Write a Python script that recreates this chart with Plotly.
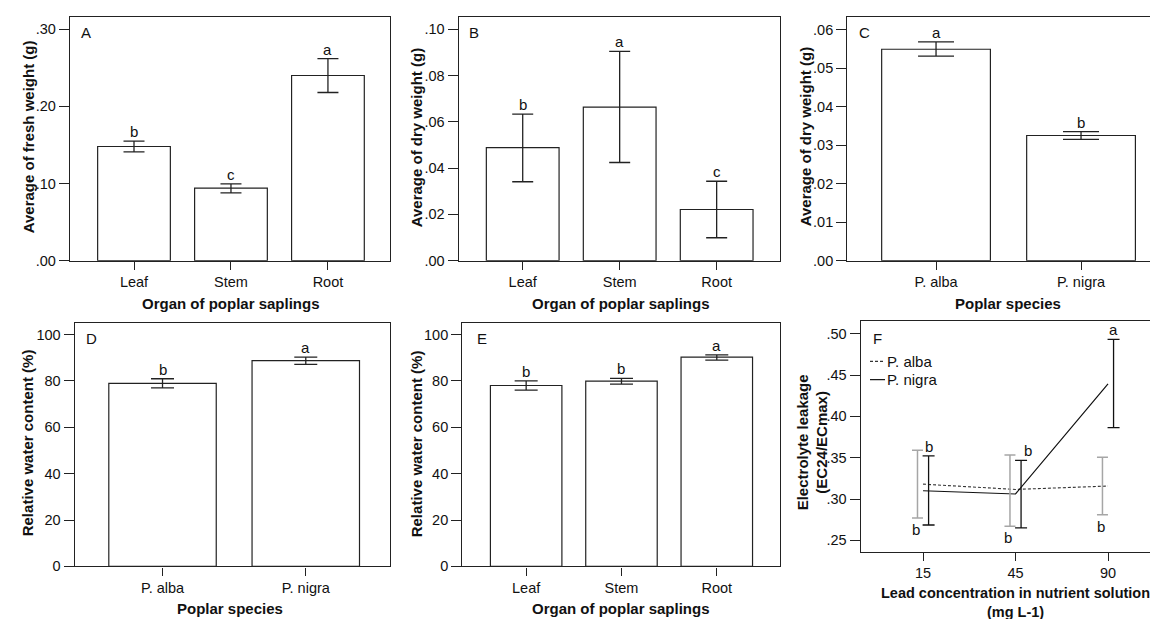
import plotly.graph_objects as go

W, H = 1158, 619

# ---------------- data ----------------
organs = ["Leaf", "Stem", "Root"]
species = ["P. alba", "P. nigra"]
lead_levels = ["15", "45", "90"]

# A: fresh weight by organ
fw_mean = [0.148, 0.094, 0.240]
fw_hi = [0.155, 0.0995, 0.262]
fw_lo = [0.141, 0.088, 0.218]
fw_letters = ["b", "c", "a"]

# B: dry weight by organ
dw_mean = [0.0488, 0.0663, 0.0221]
dw_hi = [0.0633, 0.0904, 0.0343]
dw_lo = [0.0341, 0.0424, 0.0099]
dw_letters = ["b", "a", "c"]

# C: dry weight by species
dws_mean = [0.0549, 0.0325]
dws_hi = [0.0568, 0.0335]
dws_lo = [0.0531, 0.0315]
dws_letters = ["a", "b"]

# D: RWC by species
rwcs_mean = [78.9, 88.7]
rwcs_hi = [80.9, 90.2]
rwcs_lo = [77.0, 87.1]
rwcs_letters = ["b", "a"]

# E: RWC by organ
rwco_mean = [78.0, 79.9, 90.2]
rwco_hi = [80.0, 81.1, 91.2]
rwco_lo = [76.0, 78.6, 88.9]
rwco_letters = ["b", "b", "a"]

# F: electrolyte leakage
alba_mean = [0.318, 0.3116, 0.3157]
alba_hi = [0.359, 0.3534, 0.3507]
alba_lo = [0.277, 0.267, 0.281]
alba_letters = ["b", "b", "b"]
nigra_mean = [0.310, 0.3061, 0.4394]
nigra_hi = [0.3522, 0.3467, 0.4932]
nigra_lo = [0.2686, 0.265, 0.3865]
nigra_letters = ["b", "b", "a"]

tick_A = [0, 0.10, 0.20, 0.30]
tick_A_txt = [".00", ".10", ".20", ".30"]
tick_B = [0, 0.02, 0.04, 0.06, 0.08, 0.10]
tick_B_txt = [".00", ".02", ".04", ".06", ".08", ".10"]
tick_C = [0, 0.01, 0.02, 0.03, 0.04, 0.05, 0.06]
tick_C_txt = [".00", ".01", ".02", ".03", ".04", ".05", ".06"]
tick_DE = [0, 20, 40, 60, 80, 100]
tick_DE_txt = ["0", "20", "40", "60", "80", "100"]
tick_F = [0.25, 0.30, 0.35, 0.40, 0.45, 0.50]
tick_F_txt = [".25", ".30", ".35", ".40", ".45", ".50"]

# ---------------- style ----------------
FONT = "Liberation Sans, Arial, sans-serif"
LC = "#222222"
GRAY = "#a6a6a6"

def px_x(p):
    return p / W

def px_y(p):
    return 1 - p / H

fig = go.Figure()

panels = [
    ("", 62, 382, 9, 256, [-0.66, 2.64], [0, 0.316], tick_A, tick_A_txt, True),
    ("2", 450.7, 771.7, 9, 256, [-0.66, 2.65], [0, 0.1053], tick_B, tick_B_txt, True),
    ("3", 839.3, 1158, 9, 256, [-0.612, 1.586], [0, 0.0633], tick_C, tick_C_txt, False),
    ("4", 66.7, 382.3, 319, 565.7, [-0.613, 1.59], [0, 105], tick_DE, tick_DE_txt, True),
    ("5", 454.3, 771.7, 319, 565.7, [-0.67, 2.66], [0, 105], tick_DE, tick_DE_txt, True),
    ("6", 852.7, 1158, 317.3, 550.7, [-0.674, 2.627], [0.2364, 0.5152], tick_F, tick_F_txt, False),
]

layout_axes = {}
for name, x0, x1, yt, yb, xr, yr, tv, tt, rline in panels:
    layout_axes["xaxis" + name] = dict(
        domain=[px_x(x0), min(1.0, px_x(x1))], anchor="y" + name, range=xr,
        showline=True, linecolor=LC, linewidth=1.3, mirror=True,
        ticks="outside", ticklen=8, tickcolor=LC, tickwidth=1.3,
        showgrid=False, zeroline=False, tickfont=dict(family=FONT, size=14.5, color="#111"),
    )
    layout_axes["yaxis" + name] = dict(
        domain=[px_y(yb), px_y(yt)], anchor="x" + name, range=yr,
        showline=True, linecolor=LC, linewidth=1.3, mirror=rline,
        ticks="outside", ticklen=10, tickcolor=LC, tickwidth=1.3,
        tickvals=tv, ticktext=tt,
        showgrid=False, zeroline=False, tickfont=dict(family=FONT, size=14.5, color="#111"),
    )

layout_axes["xaxis"].update(tickvals=[0, 1, 2], ticktext=organs)
layout_axes["xaxis2"].update(tickvals=[0, 1, 2], ticktext=organs)
layout_axes["xaxis3"].update(tickvals=[0, 1], ticktext=species)
layout_axes["xaxis4"].update(tickvals=[0, 1], ticktext=species)
layout_axes["xaxis5"].update(tickvals=[0, 1, 2], ticktext=organs)
layout_axes["xaxis6"].update(tickvals=[0, 1, 2], ticktext=lead_levels)

annotations = []

def bar_panel(suffix, cats, mean, hi, lo, letters, capw):
    xs = list(range(len(cats)))
    fig.add_trace(go.Bar(
        x=xs, y=mean, width=0.75,
        marker=dict(color="white", line=dict(color=LC, width=1.2)),
        error_y=dict(type="data", symmetric=False,
                     array=[h - m for h, m in zip(hi, mean)],
                     arrayminus=[m - l for m, l in zip(mean, lo)],
                     color=LC, thickness=1.3, width=capw),
        xaxis="x" + suffix, yaxis="y" + suffix, showlegend=False,
    ))
    for x, h, t in zip(xs, hi, letters):
        annotations.append(dict(
            x=x, y=h, xref="x" + suffix, yref="y" + suffix, text=t,
            showarrow=False, yanchor="bottom", yshift=-1,
            font=dict(family=FONT, size=15, color="#111")))

bar_panel("", organs, fw_mean, fw_hi, fw_lo, fw_letters, 10.5)
bar_panel("2", organs, dw_mean, dw_hi, dw_lo, dw_letters, 10.5)
bar_panel("3", species, dws_mean, dws_hi, dws_lo, dws_letters, 18)
bar_panel("4", species, rwcs_mean, rwcs_hi, rwcs_lo, rwcs_letters, 11.5)
bar_panel("5", organs, rwco_mean, rwco_hi, rwco_lo, rwco_letters, 11.5)

# ---------------- panel F ----------------
idx = list(range(len(lead_levels)))
dodge = 0.06
fig.add_trace(go.Scatter(
    x=idx, y=alba_mean, mode="lines",
    line=dict(color="#333", width=1.1, dash="3px,2px"),
    xaxis="x6", yaxis="y6", showlegend=False))
fig.add_trace(go.Scatter(
    x=idx, y=nigra_mean, mode="lines",
    line=dict(color="#111", width=1.2),
    xaxis="x6", yaxis="y6", showlegend=False))
fig.add_trace(go.Scatter(
    x=[i - dodge for i in idx], y=alba_mean, mode="markers",
    marker=dict(size=1, opacity=0),
    error_y=dict(type="data", symmetric=False,
                 array=[h - m for h, m in zip(alba_hi, alba_mean)],
                 arrayminus=[m - l for m, l in zip(alba_mean, alba_lo)],
                 color=GRAY, thickness=1.5, width=5.5),
    xaxis="x6", yaxis="y6", showlegend=False))
fig.add_trace(go.Scatter(
    x=[i + dodge for i in idx], y=nigra_mean, mode="markers",
    marker=dict(size=1, opacity=0),
    error_y=dict(type="data", symmetric=False,
                 array=[h - m for h, m in zip(nigra_hi, nigra_mean)],
                 arrayminus=[m - l for m, l in zip(nigra_mean, nigra_lo)],
                 color="#111", thickness=1.3, width=6),
    xaxis="x6", yaxis="y6", showlegend=False))
for i, h, t in zip(idx, nigra_hi, nigra_letters):
    annotations.append(dict(
        x=i + dodge + (0.08 if i == 1 else 0), y=h, xref="x6", yref="y6", text=t,
        showarrow=False, yanchor="bottom", yshift=-1,
        font=dict(family=FONT, size=15, color="#111")))
for i, l, t in zip(idx, alba_lo, alba_letters):
    annotations.append(dict(
        x=i - dodge - 0.02, y=l, xref="x6", yref="y6", text=t,
        showarrow=False, yanchor="top", yshift=-1,
        font=dict(family=FONT, size=15, color="#111")))

# legend for F (drawn manually)
shapes = [
    dict(type="line", xref="paper", yref="paper",
         x0=px_x(862), x1=px_x(877), y0=px_y(358), y1=px_y(358),
         line=dict(color="#333", width=1.1, dash="3px,2px")),
    dict(type="line", xref="paper", yref="paper",
         x0=px_x(862), x1=px_x(877), y0=px_y(376.5), y1=px_y(376.5),
         line=dict(color="#111", width=1.2)),
]
for txt, yy in [(species[0], 358), (species[1], 376.5)]:
    annotations.append(dict(
        x=px_x(877), y=px_y(yy), xref="paper", yref="paper", text=txt,
        showarrow=False, xanchor="left", yanchor="middle",
        font=dict(family=FONT, size=15, color="#111")))

# panel letters
for lab, xx, yy in [("A", 71, 25), ("B", 459, 25), ("C", 849, 25),
                    ("D", 76, 335), ("E", 467, 335), ("F", 863, 335)]:
    annotations.append(dict(
        x=px_x(xx), y=px_y(yy), xref="paper", yref="paper", text=lab,
        showarrow=False, xanchor="left", yanchor="middle",
        font=dict(family=FONT, size=15, color="#111")))

# axis titles
TF = dict(family=FONT, size=15, color="#111")
def title(text, xx, yy, angle=0, size=15):
    annotations.append(dict(
        x=px_x(xx), y=px_y(yy), xref="paper", yref="paper", text=text,
        showarrow=False, xanchor="center", yanchor="middle", textangle=angle,
        font=dict(family=FONT, size=size, color="#111")))

title("<b>Organ of poplar saplings</b>", 223, 299)
title("<b>Organ of poplar saplings</b>", 613, 299)
title("<b>Poplar species</b>", 1000, 299)
title("<b>Poplar species</b>", 222, 608)
title("<b>Organ of poplar saplings</b>", 613, 608)
title("<b>Lead concentration in nutrient solution</b><br><b>(mg L-1)</b>", 1007, 602, size=14.5)
title("<b>Average of fresh weight (g)</b>", 20, 131, -90)
title("<b>Average of dry weight (g)</b>", 408, 131, -90)
title("<b>Average of dry weight (g)</b>", 797, 131, -90)
title("<b>Relative water content (%)</b>", 19, 441, -90)
title("<b>Relative water content (%)</b>", 408, 441, -90)
title("<b>Electrolyte leakage</b><br><b>(EC24/ECmax)</b>", 804, 440, -90)

fig.update_layout(
    width=W, height=H, margin=dict(l=0, r=0, t=0, b=0),
    paper_bgcolor="white", plot_bgcolor="white",
    annotations=annotations, shapes=shapes, showlegend=False,
    **layout_axes,
)

fig.write_html("out.html")
